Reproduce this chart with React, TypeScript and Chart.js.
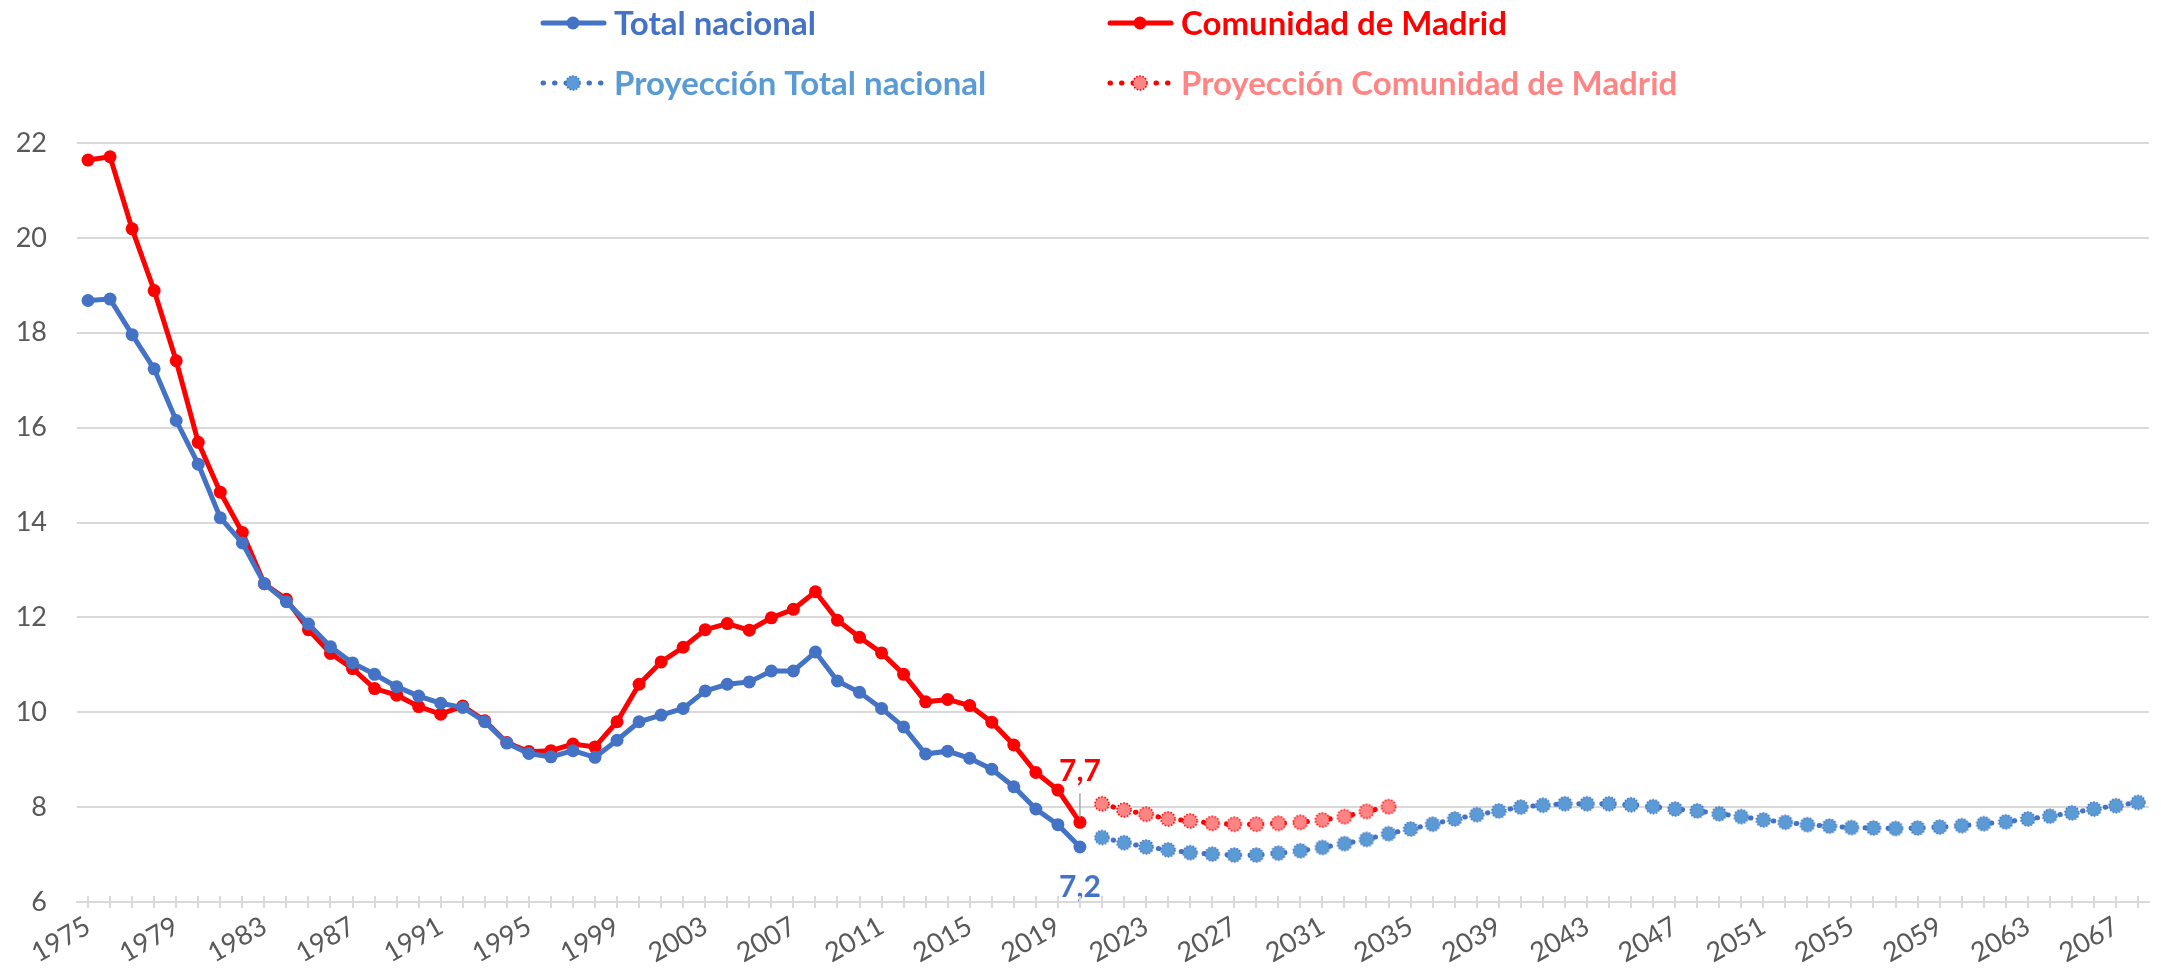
import React, { useEffect, useRef } from 'react';
import { Chart, registerables } from 'chart.js';

Chart.register(...registerables);

const FIRST_YEAR = 1975;
const LAST_YEAR = 2068;
const years: string[] = Array.from({ length: LAST_YEAR - FIRST_YEAR + 1 }, (_, i) => String(FIRST_YEAR + i));

// 1975–2020
const totalNacional = [
  18.68, 18.71, 17.96, 17.24, 16.15, 15.23, 14.10, 13.57, 12.71, 12.33,
  11.86, 11.38, 11.04, 10.80, 10.54, 10.34, 10.19, 10.10, 9.80, 9.35,
  9.13, 9.06, 9.19, 9.05, 9.41, 9.80, 9.94, 10.08, 10.45, 10.59,
  10.64, 10.87, 10.87, 11.27, 10.66, 10.42, 10.08, 9.69, 9.12, 9.18,
  9.03, 8.80, 8.43, 7.96, 7.63, 7.16,
];
const comunidadMadrid = [
  21.64, 21.71, 20.19, 18.89, 17.41, 15.69, 14.64, 13.79, 12.71, 12.38,
  11.74, 11.24, 10.92, 10.50, 10.36, 10.12, 9.96, 10.13, 9.82, 9.36,
  9.17, 9.19, 9.33, 9.27, 9.80, 10.59, 11.06, 11.37, 11.74, 11.87,
  11.73, 11.99, 12.17, 12.54, 11.94, 11.58, 11.25, 10.80, 10.22, 10.27,
  10.14, 9.79, 9.31, 8.73, 8.36, 7.68,
];
// 2021–2068
const proyeccionTotal = [
  7.36, 7.25, 7.16, 7.10, 7.04, 7.01, 6.99, 6.99, 7.03, 7.08,
  7.15, 7.23, 7.32, 7.44, 7.54, 7.64, 7.75, 7.84, 7.92, 8.00,
  8.04, 8.07, 8.07, 8.07, 8.05, 8.01, 7.96, 7.92, 7.86, 7.80,
  7.73, 7.68, 7.63, 7.60, 7.57, 7.56, 7.55, 7.56, 7.58, 7.61,
  7.65, 7.69, 7.75, 7.81, 7.88, 7.96, 8.03, 8.10,
];
// 2021–2034
const proyeccionMadrid = [
  8.07, 7.94, 7.85, 7.75, 7.71, 7.66, 7.64, 7.64, 7.66, 7.68,
  7.73, 7.80, 7.91, 8.01,
];
const PROJ_START = 2021;

const yTicks = { min: 6, max: 22, step: 2 };

const BLUE = '#4472C4';
const RED = '#FF0000';
const BLUE_PROJ = '#5B9BD5';
const RED_PROJ = '#FF8585';
const GRID = '#D9D9D9';
const TEXT = '#595959';
const FONT = 'Lato, "Open Sans", sans-serif';

function pad(values: number[], startYear: number): (number | null)[] {
  return years.map((y) => {
    const i = Number(y) - startYear;
    return i >= 0 && i < values.length ? values[i] : null;
  });
}

function makeMarker(fill: string, stroke: string, r: number): HTMLCanvasElement {
  const size = Math.ceil(r * 2 + 4);
  const c = document.createElement('canvas');
  c.width = size;
  c.height = size;
  const g = c.getContext('2d')!;
  g.beginPath();
  g.arc(size / 2, size / 2, r, 0, Math.PI * 2);
  g.fillStyle = fill;
  g.fill();
  g.setLineDash([1.6, 1.6]);
  g.lineWidth = 1.6;
  g.strokeStyle = stroke;
  g.stroke();
  return c;
}

const legendPlugin = {
  id: 'customLegend',
  afterDraw(chart: any) {
    const ctx = chart.ctx as CanvasRenderingContext2D;
    const cols = [540, 1107];
    const rows = [23, 83];
    chart.data.datasets.forEach((ds: any, i: number) => {
      const x = cols[i % 2];
      const y = rows[Math.floor(i / 2)];
      ctx.save();
      ctx.strokeStyle = ds.borderColor;
      ctx.lineWidth = 5;
      ctx.lineCap = 'round';
      if (ds.borderDash && ds.borderDash.length) ctx.setLineDash(ds.borderDash);
      ctx.beginPath();
      ctx.moveTo(x + 3, y);
      ctx.lineTo(x + 64, y);
      ctx.stroke();
      ctx.setLineDash([]);
      if (ds.pointStyle && typeof ds.pointStyle !== 'string') {
        const img = ds.pointStyle as HTMLCanvasElement;
        ctx.drawImage(img, x + 33 - img.width / 2, y - img.height / 2);
      } else {
        ctx.beginPath();
        ctx.arc(x + 33, y, 6.5, 0, Math.PI * 2);
        ctx.fillStyle = ds.pointBackgroundColor;
        ctx.fill();
      }
      ctx.font = `bold 33px ${FONT}`;
      ctx.fillStyle = ds.legendColor;
      ctx.textBaseline = 'middle';
      ctx.textAlign = 'left';
      ctx.fillText(ds.label, x + 74, y + 1);
      ctx.restore();
    });
  },
};

const dataLabelPlugin = {
  id: 'lastValueLabels',
  afterDatasetsDraw(chart: any) {
    const ctx = chart.ctx as CanvasRenderingContext2D;
    [0, 1].forEach((di) => {
      const ds = chart.data.datasets[di];
      let last = -1;
      ds.data.forEach((v: any, i: number) => { if (v !== null) last = i; });
      if (last < 0) return;
      const pt = chart.getDatasetMeta(di).data[last];
      const text = Number(ds.data[last]).toFixed(1).replace('.', ',');
      ctx.save();
      ctx.font = `bold 30px ${FONT}`;
      ctx.fillStyle = ds.borderColor;
      ctx.textAlign = 'center';
      ctx.textBaseline = 'middle';
      if (ds.labelAbove) {
        ctx.fillText(text, pt.x, pt.y - 51);
        ctx.strokeStyle = '#A6A6A6';
        ctx.lineWidth = 1.5;
        ctx.beginPath();
        ctx.moveTo(pt.x, pt.y - 29);
        ctx.lineTo(pt.x, pt.y - 5);
        ctx.stroke();
      } else {
        ctx.fillText(text, pt.x, pt.y + 40);
      }
      ctx.restore();
    });
  },
};

const crossTickPlugin = {
  id: 'crossTicks',
  afterDraw(chart: any) {
    const scale = chart.scales.x;
    const ctx = chart.ctx as CanvasRenderingContext2D;
    const yb = chart.chartArea.bottom;
    ctx.save();
    ctx.strokeStyle = GRID;
    ctx.lineWidth = 2;
    ctx.beginPath();
    for (let i = 0; i < scale.ticks.length; i++) {
      const x = Math.round(scale.getPixelForTick(i));
      ctx.moveTo(x, yb - 6);
      ctx.lineTo(x, yb);
    }
    ctx.stroke();
    ctx.restore();
  },
};

export default function App() {
  const ref = useRef<HTMLCanvasElement | null>(null);

  useEffect(() => {
    document.body.style.margin = '0';
    const canvas = ref.current;
    if (!canvas) return;
    const blueMarker = makeMarker(BLUE_PROJ, BLUE, 7);
    const redMarker = makeMarker(RED_PROJ, RED, 7);

    const chart = new Chart(canvas, {
      type: 'line',
      data: {
        labels: years,
        datasets: [
          {
            label: 'Total nacional',
            data: pad(totalNacional, FIRST_YEAR),
            borderColor: BLUE,
            backgroundColor: BLUE,
            pointBackgroundColor: BLUE,
            pointBorderWidth: 0,
            pointRadius: 6.5,
            borderWidth: 5,
            tension: 0,
            legendColor: BLUE,
            labelAbove: false,
          } as any,
          {
            label: 'Comunidad de Madrid',
            data: pad(comunidadMadrid, FIRST_YEAR),
            borderColor: RED,
            backgroundColor: RED,
            pointBackgroundColor: RED,
            pointBorderWidth: 0,
            pointRadius: 6.5,
            borderWidth: 5,
            tension: 0,
            legendColor: RED,
            labelAbove: true,
          } as any,
          {
            label: 'Proyección Total nacional',
            data: pad(proyeccionTotal, PROJ_START),
            borderColor: BLUE,
            backgroundColor: BLUE_PROJ,
            borderDash: [0.5, 11],
            borderCapStyle: 'round',
            pointStyle: blueMarker,
            pointRadius: 7,
            borderWidth: 5,
            tension: 0,
            legendColor: BLUE_PROJ,
          } as any,
          {
            label: 'Proyección Comunidad de Madrid',
            data: pad(proyeccionMadrid, PROJ_START),
            borderColor: RED,
            backgroundColor: RED_PROJ,
            borderDash: [0.5, 11],
            borderCapStyle: 'round',
            pointStyle: redMarker,
            pointRadius: 7,
            borderWidth: 5,
            tension: 0,
            legendColor: RED_PROJ,
          } as any,
        ],
      },
      options: {
        animation: false,
        responsive: false,
        events: [],
        layout: { padding: { top: 143, right: 4, left: 0, bottom: 0 } },
        plugins: {
          legend: { display: false },
          tooltip: { enabled: false },
        },
        scales: {
          x: {
            type: 'category',
            offset: true,
            grid: {
              offset: false,
              drawOnChartArea: false,
              drawTicks: true,
              tickLength: 6,
              color: GRID,
              lineWidth: 2,
            },
            border: { display: true, color: GRID, width: 2 },
            ticks: {
              autoSkip: false,
              minRotation: 30,
              maxRotation: 30,
              padding: 2,
              color: TEXT,
              font: { family: FONT, size: 27 },
              callback: (_v: any, i: number) => (i % 4 === 0 ? years[i] : ''),
            },
            afterFit: (s: any) => {
              s.height = 71;
              s.paddingLeft = 0;
              s.paddingRight = 0;
            },
          },
          y: {
            min: yTicks.min,
            max: yTicks.max,
            ticks: {
              stepSize: yTicks.step,
              padding: 30,
              color: TEXT,
              font: { family: FONT, size: 27 },
            },
            grid: { color: GRID, lineWidth: 2, drawTicks: false },
            border: { display: false },
            afterFit: (s: any) => {
              s.width = 77;
              s.paddingTop = 0;
              s.paddingBottom = 0;
            },
          },
        },
      } as any,
      plugins: [crossTickPlugin, dataLabelPlugin, legendPlugin],
    });
    return () => chart.destroy();
  }, []);

  return (
    <div style={{ width: 2161, height: 973, overflow: 'hidden', position: 'relative', background: '#fff' }}>
      <canvas ref={ref} width={2161} height={973} style={{ display: 'block' }} />
    </div>
  );
}
